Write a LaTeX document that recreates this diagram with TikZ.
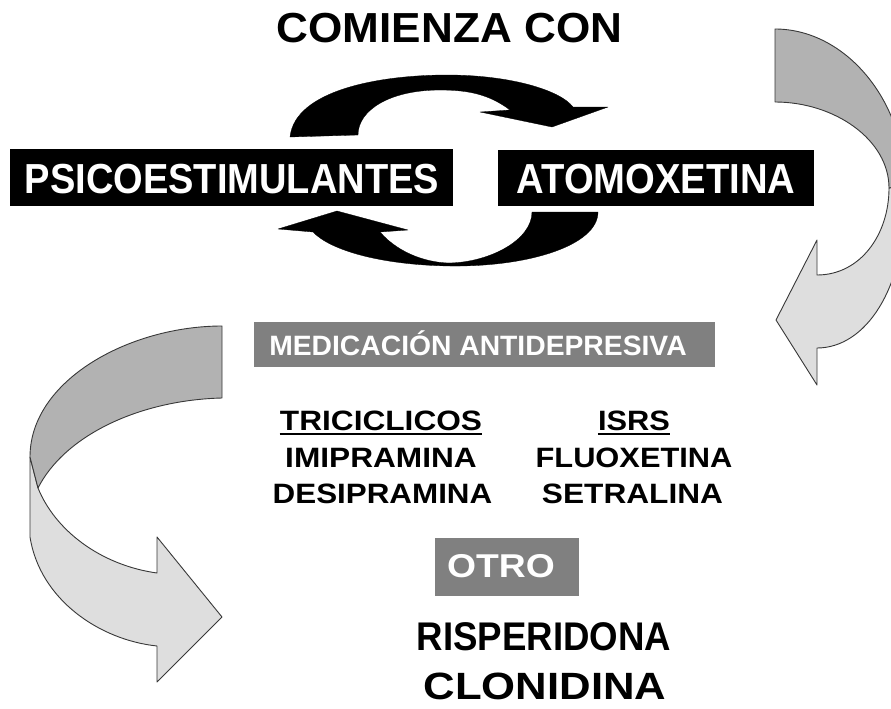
\documentclass[tikz,border=0pt]{standalone}
\usepackage{fontspec}
\setmainfont{Liberation Sans}
\usepackage{graphicx}
\newcommand{\mytext}[3]{\fontsize{#1}{#1}\selectfont\bfseries\scalebox{#2}[1]{#3}}
\definecolor{darkg}{gray}{0.70}
\definecolor{lightg}{gray}{0.87}
\definecolor{boxg}{gray}{0.50}
\definecolor{edgeg}{gray}{0.22}
\tikzset{
  blackbox/.style={draw=none,fill=black,inner sep=0pt,rectangle},
  graybox/.style={draw=none,fill=boxg,inner sep=0pt,rectangle},
  lbl/.style={inner sep=0pt,anchor=base,text=black},
  wlbl/.style={inner sep=0pt,anchor=base,text=white},
  ribbondark/.style={fill=darkg,draw=edgeg,line width=0.9pt,line join=round},
  ribbonlight/.style={fill=lightg,draw=edgeg,line width=0.9pt,line join=round},
  cyclearrow/.style={fill=black,draw=black,line width=0.3pt,line join=round}
}
\begin{document}
\begin{tikzpicture}[x=1pt,y=-1pt]
\useasboundingbox (0,0) rectangle (891,709);
\fill[white] (0,0) rectangle (891,709);
\begin{scope}
\clip (0,0) rectangle (891,709);
% right ribbon arrow (light part first)
\draw[ribbonlight] (905,185) -- (905,200) .. controls (905,290) and (865,348) .. (817,348)
  -- (817,385) -- (776,320) -- (817,240) -- (817,275)
  .. controls (860,275) and (889,235) .. (889,188) -- cycle;
\draw[ribbondark] (775,29) .. controls (845,29) and (905,100) .. (905,185) -- (889,188)
  .. controls (889,140) and (835,102) .. (775,102) -- cycle;
% left ribbon arrow
\draw[ribbonlight] (30,457) -- (30,537) .. controls (40,600) and (100,640) .. (157,646)
  -- (157,682) -- (222,617) -- (157,537) -- (157,573)
  .. controls (100,565) and (55,530) .. (38,488) -- cycle;
\draw[ribbondark] (222,326) .. controls (130,326) and (30,380) .. (30,457) -- (38,488)
  .. controls (65,435) and (140,400) .. (222,398) -- cycle;
\end{scope}
% cycle arrows
\draw[cyclearrow] (290,137) .. controls (295,90) and (380,75) .. (447,75)
  .. controls (510,75) and (560,90) .. (573,107) -- (608,107) -- (552,127) -- (480,112) -- (510,110)
  .. controls (490,95) and (470,90) .. (440,90)
  .. controls (390,90) and (358,110) .. (358,135) -- cycle;
\draw[cyclearrow] (598,212) .. controls (598,245) and (530,267) .. (450,266)
  .. controls (380,265) and (330,250) .. (313,232) -- (278,229) -- (337,211) -- (408,230) -- (380,232)
  .. controls (400,255) and (430,263) .. (450,263)
  .. controls (490,262) and (532,240) .. (532,212) -- cycle;
% title
\node[lbl] (title) at (449.5,43) {\mytext{42}{1.05}{COMIENZA CON}};
% black boxes
\node[blackbox,minimum width=443pt,minimum height=57pt] (psicobox) at (231.5,177.5) {};
\node[wlbl] (psico) at (232,193) {\mytext{42}{0.906}{PSICOESTIMULANTES}};
\node[blackbox,minimum width=316pt,minimum height=56pt] (atombox) at (656,178) {};
\node[wlbl] (atom) at (656,193) {\mytext{42}{0.91}{ATOMOXETINA}};
% medicacion
\node[graybox,minimum width=461pt,minimum height=45pt] (medbox) at (484.5,344.5) {};
\node[wlbl] (med) at (478,355) {\mytext{28}{1.01}{MEDICACIÓN ANTIDEPRESIVA}};
% columns
\node[lbl] (tri) at (381,430) {\mytext{28}{1.13}{TRICICLICOS}};
\node[lbl] (imi) at (381,467) {\mytext{28}{1.13}{IMIPRAMINA}};
\node[lbl] (des) at (382.5,503) {\mytext{28}{1.12}{DESIPRAMINA}};
\node[lbl] (isrs) at (634,430) {\mytext{28}{1.1}{ISRS}};
\node[lbl] (flu) at (634,467) {\mytext{28}{1.1}{FLUOXETINA}};
\node[lbl] (set) at (632.5,503) {\mytext{28}{1.13}{SETRALINA}};
\draw[line width=1.8pt] ([yshift=-4pt]tri.base west) -- ([yshift=-4pt]tri.base east);
\draw[line width=1.8pt] ([yshift=-4pt]isrs.base west) -- ([yshift=-4pt]isrs.base east);
% otro
\node[graybox,minimum width=144pt,minimum height=58pt] (otrobox) at (507,567) {};
\node[wlbl] (otro) at (501,577) {\mytext{33}{1.13}{OTRO}};
\node[lbl] (ris) at (544,650) {\mytext{40}{0.916}{RISPERIDONA}};
\node[lbl] (clo) at (545,699) {\mytext{38}{1.15}{CLONIDINA}};
\end{tikzpicture}
\end{document}
